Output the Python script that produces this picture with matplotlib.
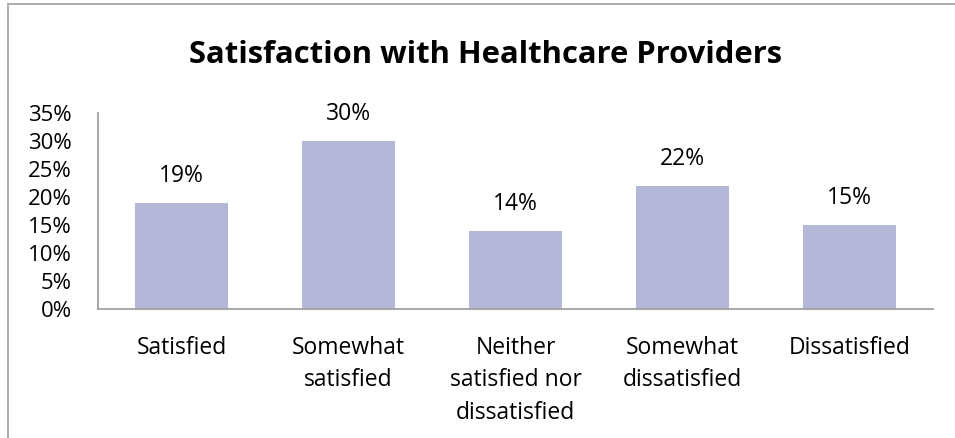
import matplotlib
matplotlib.use("Agg")
import matplotlib.pyplot as plt
from matplotlib.patches import Rectangle

plt.rcParams['font.family'] = ['Open Sans', 'DejaVu Sans']

categories = ["Satisfied", "Somewhat\nsatisfied", "Neither\nsatisfied nor\ndissatisfied",
              "Somewhat\ndissatisfied", "Dissatisfied"]
values = [19, 30, 14, 22, 15]
y_ticks = [0, 5, 10, 15, 20, 25, 30, 35]
y_tick_labels = [f"{t}%" for t in y_ticks]

W, H = 955, 438
fig = plt.figure(figsize=(W / 100, H / 100), dpi=100)

# outer chart frame (left and top edges visible)
fig.patches.append(Rectangle((8 / W, -0.1), 1.2, 1 - 4 / H + 0.1,
                             transform=fig.transFigure, fill=False,
                             edgecolor="#a6a6a6", linewidth=1.3))

ax = fig.add_axes([98 / W, 1 - 309 / H, (933 - 98) / W, (309 - 113) / H])
x = list(range(len(categories)))
ax.bar(x, values, width=0.553, color="#b5b7d8", zorder=2)
ax.set_xlim(-0.5, len(categories) - 0.5)
ax.set_ylim(0, 35)

for xi, v in zip(x, values):
    ax.annotate(f"{v}%", (xi, v), xytext=(0, 19.5), textcoords="offset points",
                ha="center", va="center", fontsize=16.5, color="#000000")

ax.set_yticks(y_ticks)
ax.set_yticklabels(y_tick_labels, fontsize=16)
ax.set_xticks(x)
ax.set_xticklabels(categories, fontsize=16.5, linespacing=1.46, va="top")
ax.tick_params(axis="both", length=0)
ax.tick_params(axis="y", pad=18.7)
ax.tick_params(axis="x", pad=19.5)

for s in ("top", "right"):
    ax.spines[s].set_visible(False)
for s in ("left", "bottom"):
    ax.spines[s].set_color("#a0a0a0")
    ax.spines[s].set_linewidth(1.3)

fig.text(485 / W, 1 - 55 / H, "Satisfaction with Healthcare Providers",
         ha="center", va="center", fontsize=22.3, fontweight="bold")

fig.savefig("out.png", dpi=100)
